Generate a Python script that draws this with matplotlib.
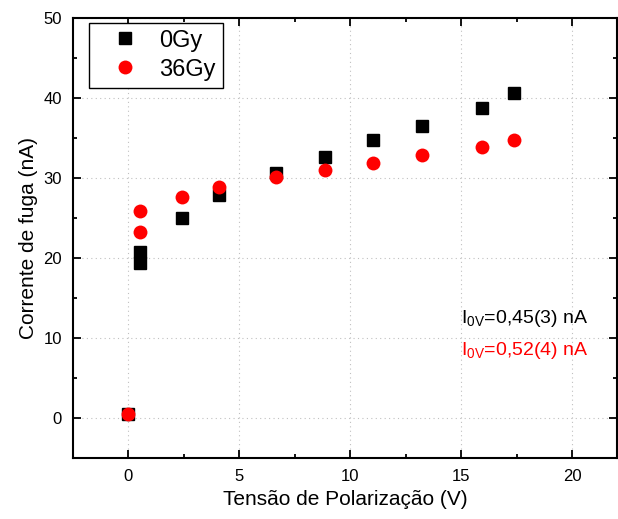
import matplotlib
matplotlib.use("Agg")
import matplotlib.pyplot as plt
from matplotlib.ticker import MultipleLocator

plt.rcParams['font.family'] = ['Liberation Sans', 'DejaVu Sans']
plt.rcParams['mathtext.fontset'] = 'custom'
plt.rcParams['mathtext.rm'] = 'Liberation Sans'

# Data
v_0gy = [0.0, 0.5, 0.5, 2.42, 4.07, 6.66, 8.87, 11.0, 13.24, 15.94, 17.36]
i_0gy = [0.45, 20.8, 19.35, 25.0, 27.9, 30.6, 32.7, 34.75, 36.5, 38.8, 40.6]
v_36gy = [0.0, 0.5, 0.5, 2.42, 4.07, 6.66, 8.87, 11.0, 13.24, 15.94, 17.36]
i_36gy = [0.52, 25.9, 23.3, 27.6, 28.9, 30.1, 31.0, 31.9, 32.9, 33.9, 34.8]
labels = ['0Gy', '36Gy']
annot = [r'$\mathregular{I_{0V}}$=0,45(3) nA', r'$\mathregular{I_{0V}}$=0,52(4) nA']

fig = plt.figure(figsize=(6.18, 5.19), dpi=100)
ax = fig.add_axes([0.118, 0.1175, 0.88, 0.8475])

ax.plot(v_0gy, i_0gy, 's', color='black', markersize=9, label=labels[0], zorder=3)
ax.plot(v_36gy, i_36gy, 'o', color='red', markersize=10, markeredgewidth=0, label=labels[1], zorder=4)

ax.set_xlim(-2.5, 22)
ax.set_ylim(-5, 50)
ax.xaxis.set_major_locator(MultipleLocator(5))
ax.xaxis.set_minor_locator(MultipleLocator(2.5))
ax.yaxis.set_major_locator(MultipleLocator(10))
ax.yaxis.set_minor_locator(MultipleLocator(5))
ax.tick_params(which='both', direction='in', top=True, right=True, labelsize=12, width=1.3)
ax.tick_params(which='major', length=6, pad=8)
ax.tick_params(which='minor', length=3)
for s in ax.spines.values():
    s.set_linewidth(1.5)
ax.grid(True, which='major', linestyle=(0, (1, 3)), color='#c0c0c0', linewidth=0.8)

ax.set_xlabel('Tensão de Polarização (V)', fontsize=15, labelpad=4)
ax.set_ylabel('Corrente de fuga (nA)', fontsize=15, labelpad=4)

ax.text(15.0, 12.5, annot[0], color='black', fontsize=14, va='center', ha='left')
ax.text(15.0, 8.5, annot[1], color='red', fontsize=14, va='center', ha='left')

leg = ax.legend(loc='upper left', bbox_to_anchor=(0.029, 0.99), fontsize=17, fancybox=False,
                edgecolor='black', framealpha=1, handletextpad=0.2, borderpad=0.3,
                labelspacing=0.3, handlelength=2.5, borderaxespad=0)
leg.get_frame().set_linewidth(1.0)

fig.savefig('out.png', dpi=100)
